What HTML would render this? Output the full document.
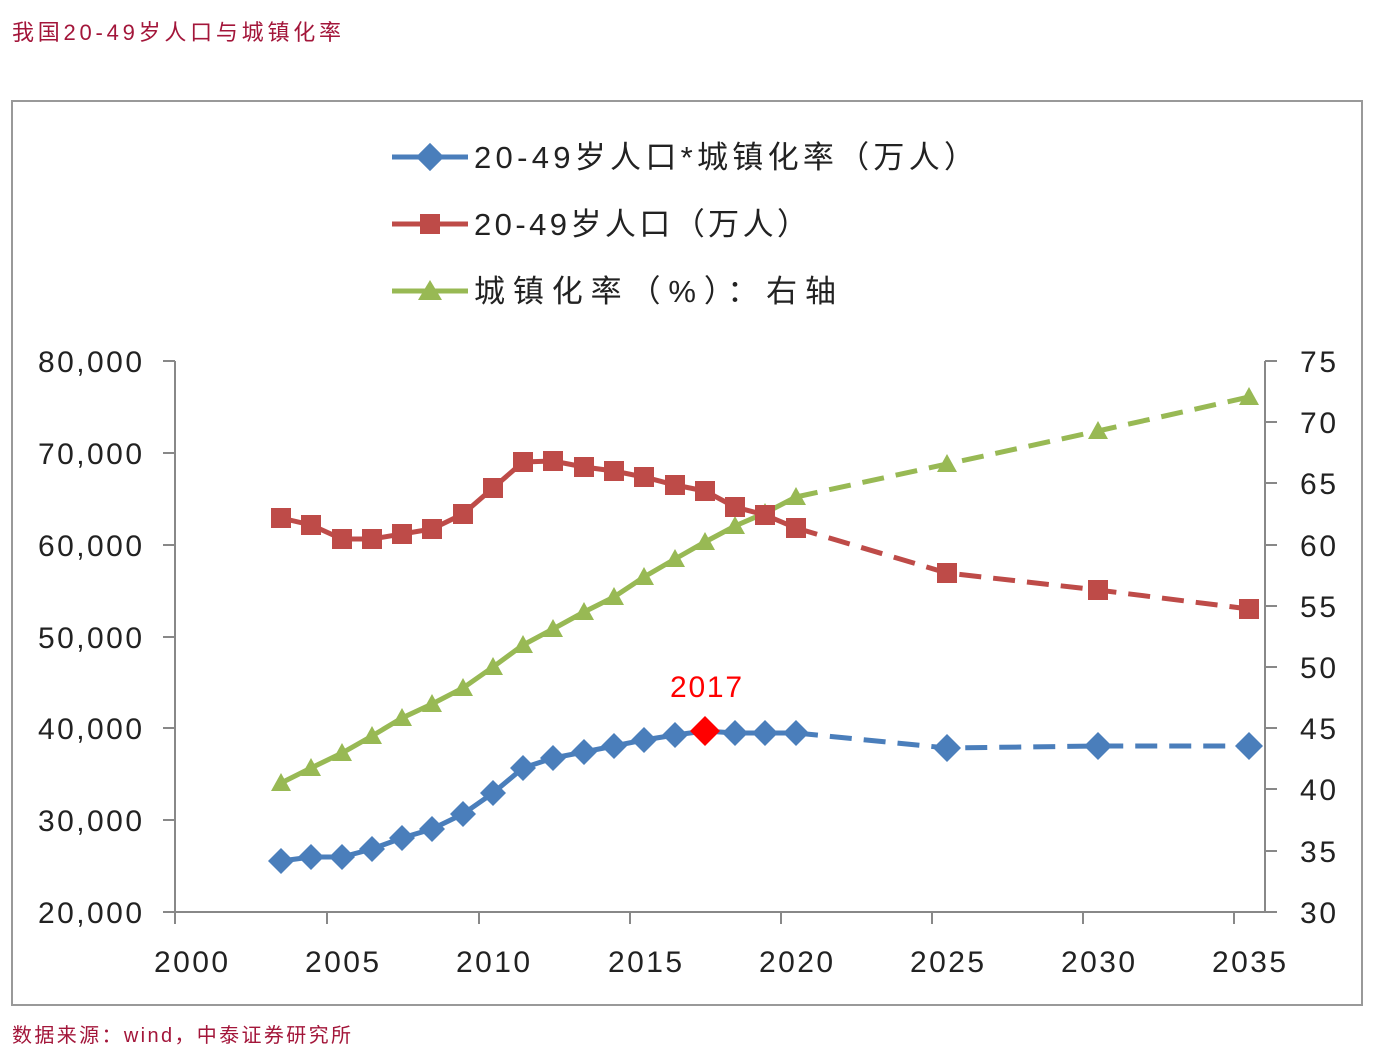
<!DOCTYPE html>
<html><head><meta charset="utf-8"><style>
html,body{margin:0;padding:0;background:#fff;}
svg{display:block;}
</style></head><body>
<svg width="1378" height="1062" xmlns="http://www.w3.org/2000/svg" font-family="'Liberation Sans','Noto Sans CJK SC',sans-serif">
<text x="12" y="40" font-size="22" fill="#a3163a" textLength="329" lengthAdjust="spacing">我国20-49岁人口与城镇化率</text>
<text x="12" y="1042" font-size="20" fill="#a3163a" textLength="339" lengthAdjust="spacing">数据来源：wind，中泰证券研究所</text>
<rect x="12" y="101" width="1350" height="904" fill="#fff" stroke="#999" stroke-width="2"/>
<g font-size="31" fill="#222">
<line x1="392" y1="157" x2="468" y2="157" stroke="#4a7ebb" stroke-width="5"/>
<rect x="420" y="147" width="20" height="20" fill="#4a7ebb" transform="rotate(45 430 157)"/>
<text x="474" y="168" textLength="501" lengthAdjust="spacing">20-49岁人口*城镇化率（万人）</text>
<line x1="392" y1="224" x2="468" y2="224" stroke="#be4b48" stroke-width="5"/>
<rect x="420" y="214" width="20" height="20" fill="#be4b48"/>
<text x="474" y="235" textLength="334" lengthAdjust="spacing">20-49岁人口（万人）</text>
<line x1="392" y1="291" x2="468" y2="291" stroke="#98b954" stroke-width="5"/>
<polygon points="430,280 442,300 418,300" fill="#98b954"/>
<text x="474" y="302" textLength="362" lengthAdjust="spacing">城镇化率（%）：右轴</text>
</g>
<g stroke="#888" stroke-width="2" fill="none">
<line x1="175" y1="361" x2="175" y2="912"/>
<line x1="1265" y1="361" x2="1265" y2="912"/>
<line x1="175" y1="912" x2="1265" y2="912"/>
<path d="M163 361H175M163 453H175M163 545H175M163 637H175M163 728H175M163 820H175M163 912H175"/>
<path d="M1265 361H1277M1265 422H1277M1265 483H1277M1265 545H1277M1265 606H1277M1265 667H1277M1265 728H1277M1265 789H1277M1265 851H1277M1265 912H1277"/>
<path d="M175 912V924M327 912V924M479 912V924M630 912V924M781 912V924M932 912V924M1083 912V924M1234 912V924"/>
</g>
<g font-size="30" fill="#222">
<text x="38" y="372" textLength="104">80,000</text><text x="38" y="464" textLength="104">70,000</text><text x="38" y="556" textLength="104">60,000</text><text x="38" y="648" textLength="104">50,000</text><text x="38" y="739" textLength="104">40,000</text><text x="38" y="831" textLength="104">30,000</text><text x="38" y="923" textLength="104">20,000</text>
</g>
<g font-size="30" fill="#222">
<text x="1300" y="372" textLength="36">75</text><text x="1300" y="433" textLength="36">70</text><text x="1300" y="494" textLength="36">65</text><text x="1300" y="556" textLength="36">60</text><text x="1300" y="617" textLength="36">55</text><text x="1300" y="678" textLength="36">50</text><text x="1300" y="739" textLength="36">45</text><text x="1300" y="800" textLength="36">40</text><text x="1300" y="862" textLength="36">35</text><text x="1300" y="923" textLength="36">30</text>
</g>
<g font-size="30" fill="#222">
<text x="154" y="972" textLength="74">2000</text><text x="305" y="972" textLength="74">2005</text><text x="456" y="972" textLength="74">2010</text><text x="608" y="972" textLength="74">2015</text><text x="759" y="972" textLength="74">2020</text><text x="910" y="972" textLength="74">2025</text><text x="1061" y="972" textLength="74">2030</text><text x="1212" y="972" textLength="74">2035</text>
</g>
<polyline fill="none" stroke="#98b954" stroke-width="5" points="281,783 311,768 342,753 372,736 402,718 432,704 463,688 493,667 523,645 553,629 584,612 614,597 644,577 675,559 705,542 735,526 765,513 796,497"/>
<polyline fill="none" stroke="#98b954" stroke-width="5" stroke-dasharray="22,12" points="796,497 947,464 1098,431 1249,397"/>
<polyline fill="none" stroke="#be4b48" stroke-width="5" points="281,518 311,525 342,539 372,539 402,534 432,529 463,514 493,488 523,462 553,461 584,467 614,471 644,477 675,485 705,491 735,507 765,515 796,528"/>
<polyline fill="none" stroke="#be4b48" stroke-width="5" stroke-dasharray="22,12" points="796,528 947,573 1098,590 1249,609"/>
<polyline fill="none" stroke="#4a7ebb" stroke-width="5" points="281,861 311,857 342,857 372,849 402,838 432,829 463,814 493,793 523,768 553,758 584,752 614,746 644,740 675,735 705,731 735,733 765,733 796,733"/>
<polyline fill="none" stroke="#4a7ebb" stroke-width="5" stroke-dasharray="22,12" points="796,733 947,748 1098,746 1249,746"/>
<g fill="#98b954">
<polygon points="281,773 291,791 271,791"/><polygon points="311,758 321,776 301,776"/><polygon points="342,743 352,761 332,761"/><polygon points="372,726 382,744 362,744"/><polygon points="402,708 412,726 392,726"/><polygon points="432,694 442,712 422,712"/><polygon points="463,678 473,696 453,696"/><polygon points="493,657 503,675 483,675"/><polygon points="523,635 533,653 513,653"/><polygon points="553,619 563,637 543,637"/><polygon points="584,602 594,620 574,620"/><polygon points="614,587 624,605 604,605"/><polygon points="644,567 654,585 634,585"/><polygon points="675,549 685,567 665,567"/><polygon points="705,532 715,550 695,550"/><polygon points="735,516 745,534 725,534"/><polygon points="765,503 775,521 755,521"/><polygon points="796,487 806,505 786,505"/><polygon points="947,454 957,472 937,472"/><polygon points="1098,421 1108,439 1088,439"/><polygon points="1249,387 1259,405 1239,405"/>
</g>
<g fill="#be4b48">
<rect x="271" y="508" width="20" height="20"/><rect x="301" y="515" width="20" height="20"/><rect x="332" y="529" width="20" height="20"/><rect x="362" y="529" width="20" height="20"/><rect x="392" y="524" width="20" height="20"/><rect x="422" y="519" width="20" height="20"/><rect x="453" y="504" width="20" height="20"/><rect x="483" y="478" width="20" height="20"/><rect x="513" y="452" width="20" height="20"/><rect x="543" y="451" width="20" height="20"/><rect x="574" y="457" width="20" height="20"/><rect x="604" y="461" width="20" height="20"/><rect x="634" y="467" width="20" height="20"/><rect x="665" y="475" width="20" height="20"/><rect x="695" y="481" width="20" height="20"/><rect x="725" y="497" width="20" height="20"/><rect x="755" y="505" width="20" height="20"/><rect x="786" y="518" width="20" height="20"/><rect x="937" y="563" width="20" height="20"/><rect x="1088" y="580" width="20" height="20"/><rect x="1239" y="599" width="20" height="20"/>
</g>
<g fill="#4a7ebb">
<path d="M281 848l13 13-13 13-13-13zM311 844l13 13-13 13-13-13zM342 844l13 13-13 13-13-13zM372 836l13 13-13 13-13-13zM402 825l13 13-13 13-13-13zM432 816l13 13-13 13-13-13zM463 801l13 13-13 13-13-13zM493 780l13 13-13 13-13-13zM523 755l13 13-13 13-13-13zM553 745l13 13-13 13-13-13zM584 739l13 13-13 13-13-13zM614 733l13 13-13 13-13-13zM644 727l13 13-13 13-13-13zM675 722l13 13-13 13-13-13zM735 720l13 13-13 13-13-13zM765 720l13 13-13 13-13-13zM796 720l13 13-13 13-13-13zM947 734l14 14-14 14-14-14zM1098 732l14 14-14 14-14-14zM1249 732l14 14-14 14-14-14z"/>
</g>
<path d="M705 716l15 15-15 15-15-15z" fill="#ff0000"/>
<text x="670" y="697" font-size="30" fill="#ff0000" textLength="72">2017</text>
</svg>
</body></html>
